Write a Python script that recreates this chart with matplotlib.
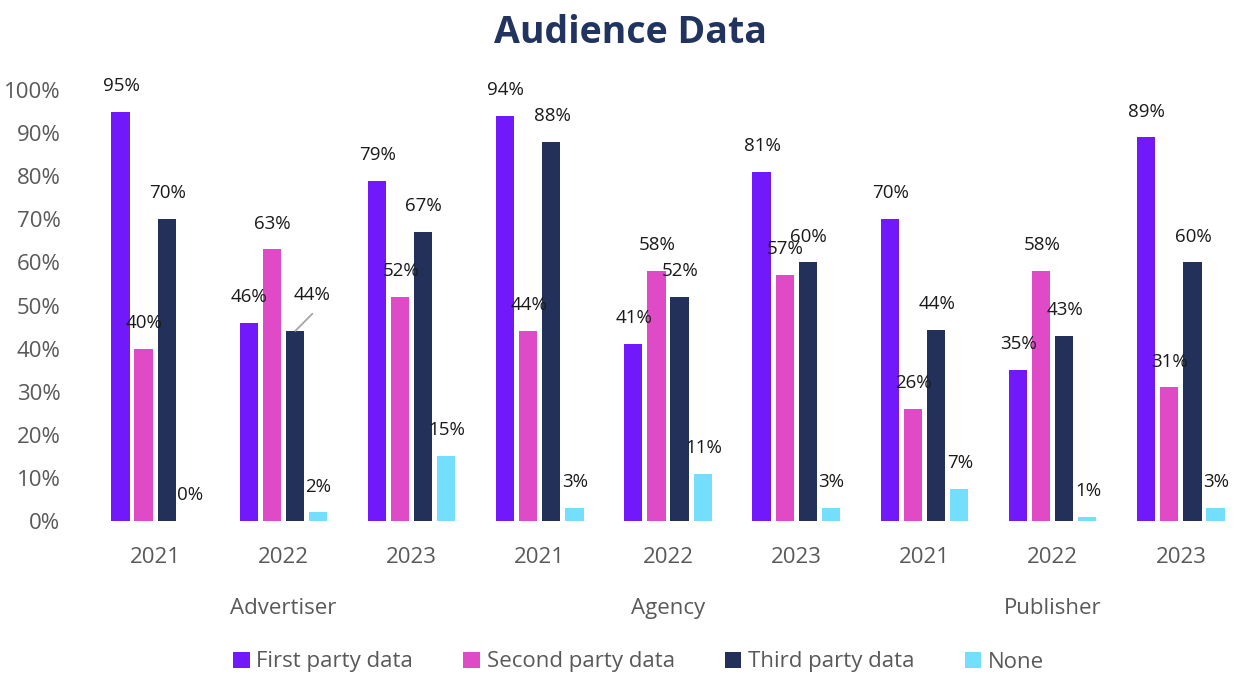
import matplotlib
matplotlib.use("Agg")
import matplotlib.pyplot as plt
import matplotlib.transforms as mtransforms
from matplotlib.patches import Patch
import numpy as np

plt.rcParams['font.family'] = ['Open Sans', 'DejaVu Sans']

# ---- data ----
groups = ["Advertiser", "Agency", "Publisher"]
years = ["2021", "2022", "2023"]
series_names = ["First party data", "Second party data", "Third party data", "None"]
first_party = [0.95, 0.46, 0.79, 0.94, 0.41, 0.81, 0.70, 0.35, 0.89]
second_party = [0.40, 0.63, 0.52, 0.44, 0.58, 0.57, 0.26, 0.58, 0.31]
third_party = [0.70, 0.44, 0.67, 0.88, 0.52, 0.60, 0.444, 0.43, 0.60]
none_data = [0.00, 0.02, 0.15, 0.03, 0.11, 0.03, 0.074, 0.01, 0.03]
colors = ["#7119FB", "#DF4AC6", "#22305A", "#74DFFD"]

series = [first_party, second_party, third_party, none_data]

fig = plt.figure(figsize=(12.4, 6.75), dpi=100)
ax = fig.add_axes([91/1240, 1 - 521/675, 1154/1240, 431/675])

n_cat = len(first_party)
x = np.arange(n_cat)
pitch = 0.18
width = 0.142
offsets = (np.arange(4) - 1.5) * pitch

label_color = "#1a1a1a"
for si, (vals, col) in enumerate(zip(series, colors)):
    xs = x + offsets[si]
    ax.bar(xs, vals, width=width, color=col, edgecolor='none', zorder=2)
    for ci, (xx, v) in enumerate(zip(xs, vals)):
        txt = f"{round(v*100):d}%"
        if si == 2 and ci == 1:
            # label moved with a leader line
            ax.plot([xx, xx + 0.14], [v, v + 0.042], color='#a6a6a6', lw=1.3,
                    solid_capstyle='butt', zorder=3, clip_on=False)
            ax.text(xx + 0.133, v + 0.084, txt, ha='center', va='center',
                    fontsize=13.5, color=label_color, clip_on=False, zorder=3)
        else:
            ax.text(xx + 0.005, v + 0.06, txt, ha='center', va='center',
                    fontsize=13.5, color=label_color, clip_on=False, zorder=3)

ax.set_xlim(-0.5, n_cat - 0.5)
ax.set_ylim(0, 1.0)
ax.set_yticks(np.arange(0, 1.01, 0.1))
ax.set_yticklabels([f"{int(round(t*100))}%" for t in np.arange(0, 1.01, 0.1)])
ax.set_xticks(x)
ax.set_xticklabels(years * len(groups))
ax.tick_params(axis='both', length=0, labelsize=16, labelcolor="#595959")
ax.tick_params(axis='y', pad=22)
ax.tick_params(axis='x', pad=19)
for s in ax.spines.values():
    s.set_visible(False)

trans = mtransforms.blended_transform_factory(ax.transData, ax.transAxes)
for gi, g in enumerate(groups):
    ax.text(gi * 3 + 1, -0.204, g, transform=trans, ha='center', va='center',
            fontsize=16, color="#595959")

fig.text(631/1240, 1 - 33/675, "Audience Data", ha='center', va='center',
         fontsize=27, fontweight='bold', color="#21345F")

handles = [Patch(facecolor=c, edgecolor='none') for c in colors]
leg = fig.legend(handles, series_names, loc='center', bbox_to_anchor=(0.515, 1 - 662/675),
                 ncol=4, frameon=False, fontsize=16, handlelength=0.75, handleheight=0.75,
                 handletextpad=0.3, columnspacing=2.25)
for t in leg.get_texts():
    t.set_color("#595959")

fig.savefig("out.png", dpi=100)
